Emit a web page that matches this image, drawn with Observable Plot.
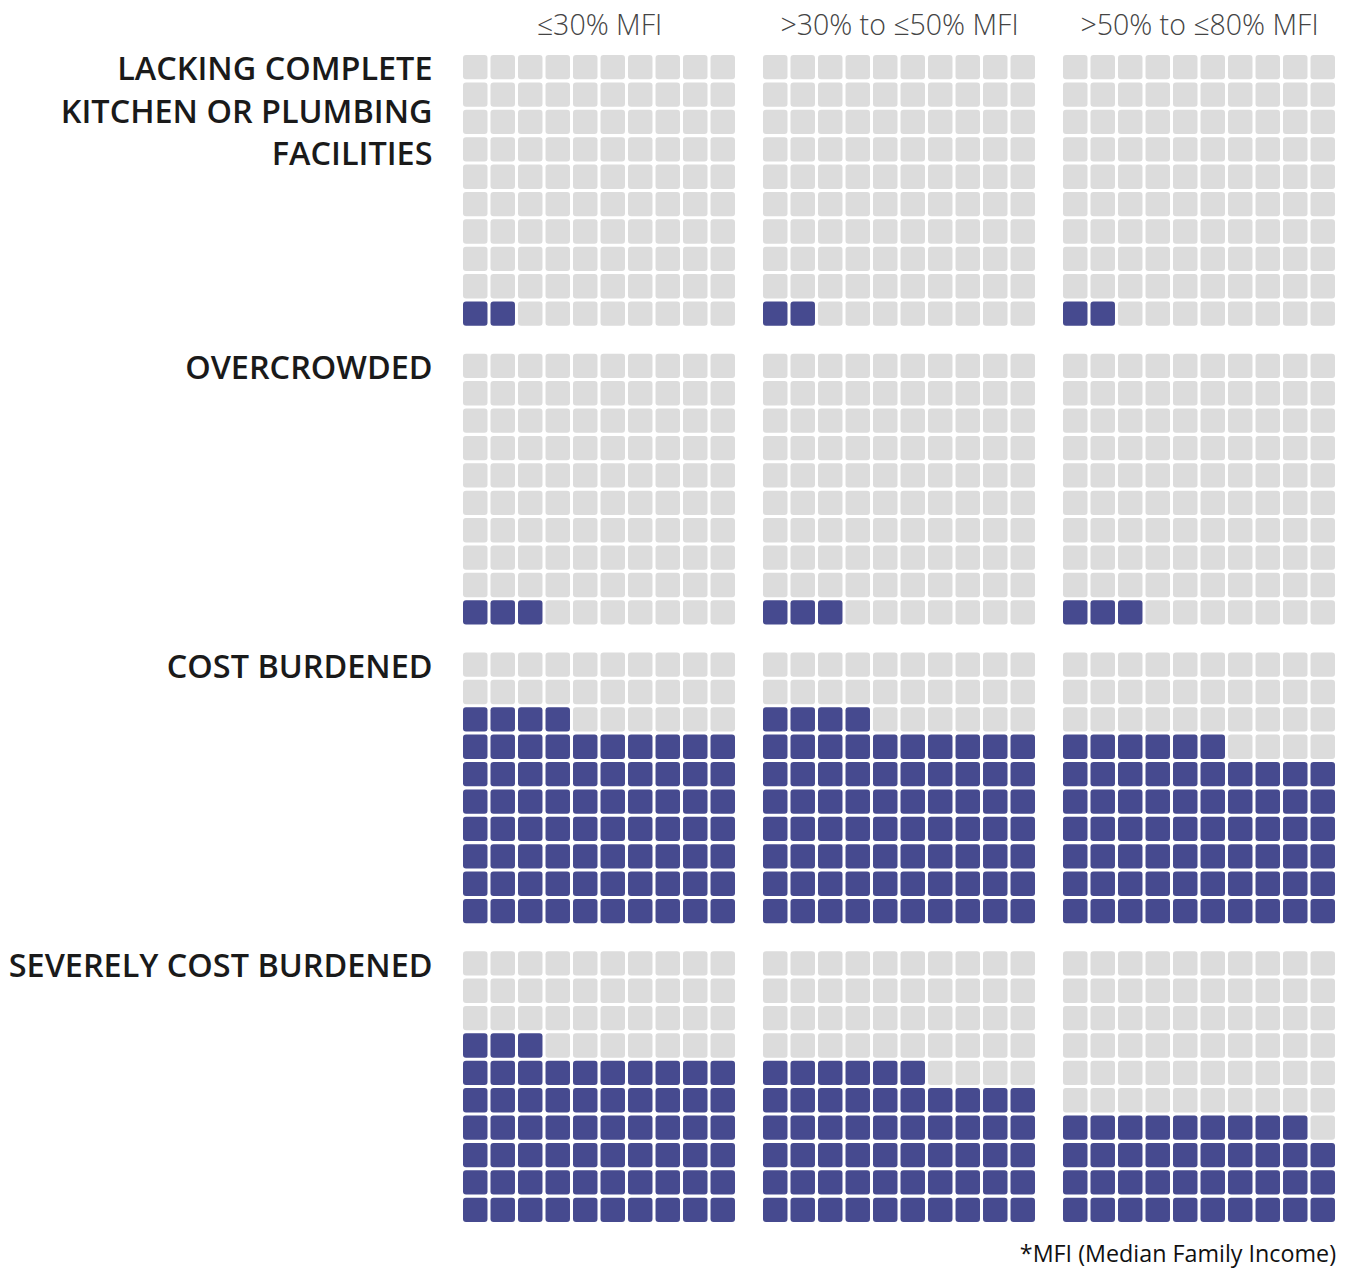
<!DOCTYPE html>
<html>
<head>
<meta charset="utf-8">
<script src="https://cdn.jsdelivr.net/npm/d3@7"></script>
<script src="https://cdn.jsdelivr.net/npm/@observablehq/plot@0.6"></script>
<style>
  html, body { margin: 0; padding: 0; background: #fff; }
  #chart { width: 1347px; }
  #caption { width: 1347px; box-sizing: border-box; padding-right: 11px; text-align: right;
    font-family: "Open Sans", sans-serif; font-size: 23.3px; color: #111; margin-top: 5px; }
</style>
</head>
<body>
<div id="chart"></div>
<div id="caption">*MFI (Median Family Income)</div>
<script>
const incomeGroups = ["≤30% MFI", ">30% to ≤50% MFI", ">50% to ≤80% MFI"];
const problems = [
  "LACKING COMPLETE\nKITCHEN OR PLUMBING\nFACILITIES",
  "OVERCROWDED",
  "COST BURDENED",
  "SEVERELY COST BURDENED"
];
// percentage of households (out of 100 squares) per problem, per income group
const lackingValues = [2, 2, 2];
const overcrowdedValues = [3, 3, 3];
const costBurdenedValues = [74, 74, 66];
const severelyBurdenedValues = [63, 56, 39];
const seriesValues = [lackingValues, overcrowdedValues, costBurdenedValues, severelyBurdenedValues];

const cells = [];
problems.forEach((p, i) => {
  incomeGroups.forEach((g, j) => {
    const v = seriesValues[i][j];
    for (let k = 0; k < 100; k++) {
      cells.push({problem: p, group: g, col: k % 10, row: Math.floor(k / 10), filled: k < v});
    }
  });
});

const plot = Plot.plot({
  width: 1347,
  height: 1232,
  marginTop: 55,
  marginBottom: 10,
  marginLeft: 463,
  marginRight: 12,
  style: {background: "#fff"},
  fx: {domain: incomeGroups, paddingInner: 28 / 300, paddingOuter: 0, round: false, axis: null},
  fy: {domain: problems, paddingInner: 28 / 299, paddingOuter: 0, round: false, axis: null},
  x: {domain: d3.range(10), paddingInner: 0.11, paddingOuter: 0, round: false, axis: null},
  y: {domain: d3.range(9, -1, -1), paddingInner: 0.11, paddingOuter: 0, round: false, axis: null},
  marks: [
    Plot.cell(cells, {
      fx: "group", fy: "problem", x: "col", y: "row",
      fill: d => d.filled ? "#464a8f" : "#dcdcdc",
      rx: 3, ry: 3
    }),
    Plot.text(problems, {
      fy: d => d, fx: () => incomeGroups[0],
      text: d => d,
      frameAnchor: "top-left", textAnchor: "end", lineAnchor: "top",
      dx: -31, dy: -5, lineHeight: 1.3,
      fontSize: 32.4, fontWeight: 600, fill: "#1a1a1a",
      fontFamily: "Open Sans, sans-serif"
    }),
    Plot.text(incomeGroups, {
      fx: d => d, fy: () => problems[0],
      text: d => d,
      frameAnchor: "top", lineAnchor: "middle", dy: -30,
      fontSize: 28.5, fontWeight: 300, fill: "#444",
      fontFamily: "Open Sans, sans-serif"
    })
  ]
});
document.getElementById("chart").append(plot);
</script>
</body>
</html>
